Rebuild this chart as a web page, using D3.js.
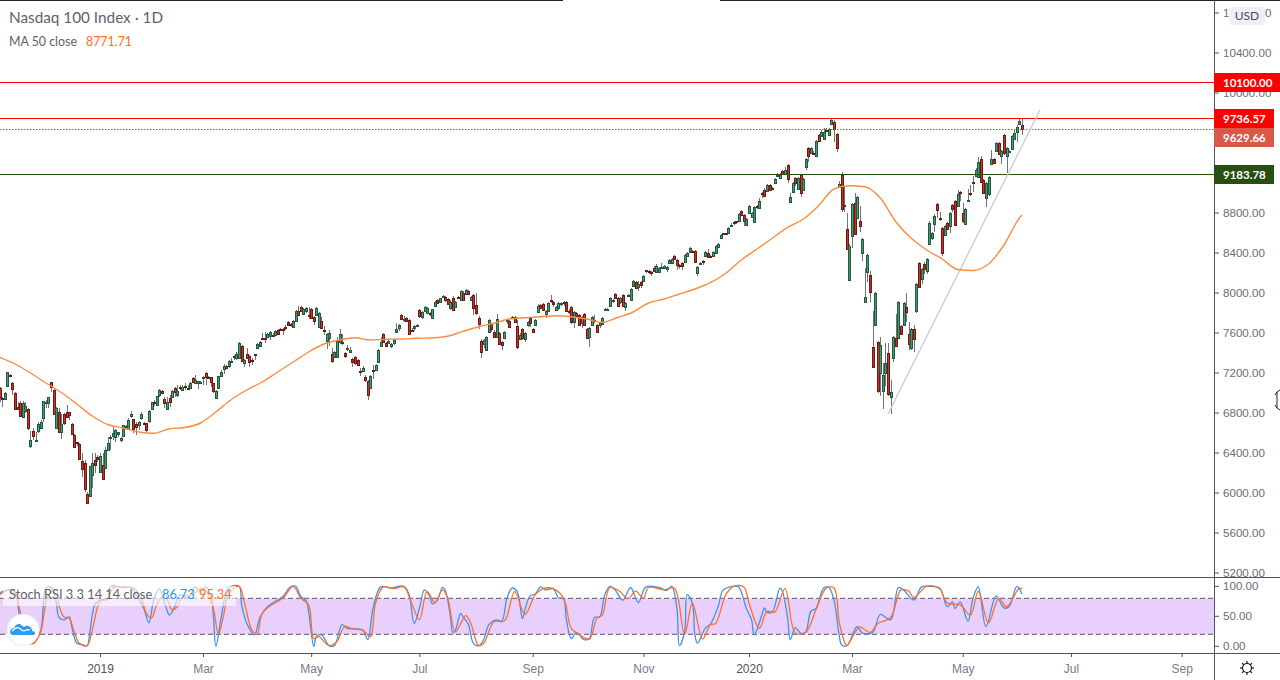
<!DOCTYPE html>
<html>
<head>
<meta charset="utf-8">
<script src="https://cdnjs.cloudflare.com/ajax/libs/d3/7.8.5/d3.min.js"></script>
<style>
  html, body { margin: 0; padding: 0; background: #fff; }
  svg { display: block; font-family: "Lato", "Open Sans", sans-serif; }
  .axis text { fill: #6a6d78; font-size: 11.6px; }
  .axis line { stroke: #50535e; }
  .axis path { display: none; }
  .time-axis text { font-size: 12px; }
</style>
</head>
<body>
<svg id="main-svg" width="1280" height="680"></svg>
<script>
// bar numbers count trading days from 2 Jan 2019 (bar 0), first visible bar is -39
const firstBar = -39;

const opens = [
  7040,6940,6930,7060,7170,7090,6990,6850,6890,6750,
  6810,6830,6460,6610,6510,6610,6640,6740,6890,6890,
  7100,7020,6640,6800,6600,6780,6800,6800,6680,6570,
  6500,6480,6310,6290,5980,5960,6170,6320,6350,6200,
  6270,6240,6420,6540,6560,6550,6580,6520,6560,6660,
  6630,6760,6730,6680,6670,6740,6690,6690,6710,6830,
  6900,6870,6970,7010,6930,6830,6940,6950,7040,6970,
  7050,7020,7060,7040,7040,7140,7090,7090,7090,7150,
  7190,7150,7150,7090,6940,7040,7160,7230,7260,7260,
  7310,7360,7340,7340,7460,7290,7380,7360,7320,7380,
  7440,7460,7540,7540,7550,7560,7570,7570,7620,7630,
  7630,7650,7700,7680,7650,7710,7810,7850,7780,7810,
  7770,7830,7750,7770,7650,7710,7620,7510,7540,7380,
  7350,7350,7500,7505,7390,7440,7400,7330,7350,7320,
  7215,7220,7150,7110,7040,7220,7220,7300,7460,7580,
  7490,7490,7460,7490,7600,7640,7770,7720,7740,7720,
  7625,7640,7665,7820,7750,7810,7790,7790,7740,7860,
  7920,7900,7960,7950,7930,7840,7940,7850,7950,7920,
  7990,7980,8010,7920,7970,7870,7740,7510,7480,7420,
  7600,7680,7600,7550,7590,7500,7540,7710,7710,7745,
  7750,7660,7530,7630,7530,7670,7740,7630,7670,7800,
  7870,7880,7780,7810,7925,7900,7820,7840,7885,7900,
  7900,7810,7850,7700,7790,7770,7690,7780,7630,7550,
  7670,7715,7670,7670,7680,7830,7830,7860,7910,7980,
  7940,7900,7970,7850,7965,7920,8060,8100,8050,8100,
  8110,8215,8210,8200,8240,8200,8200,8250,8240,8235,
  8290,8290,8360,8320,8270,8290,8300,8360,8400,8410,
  8410,8190,8290,8315,8360,8390,8360,8360,8390,8450,
  8540,8585,8585,8590,8670,8700,8705,8710,8810,8770,
  8670,8790,8750,8700,8860,8840,8990,9020,9010,9070,
  9040,9090,9165,9140,9210,9180,9270,8900,9000,9140,
  9030,9170,9020,9250,9440,9390,9395,9360,9570,9560,
  9530,9620,9570,9680,9700,9580,9050,9170,8870,8630,
  8120,8560,8890,8740,8710,8390,7900,8200,8170,7450,
  7670,7500,7190,7010,7190,7390,6950,7340,7540,7540,
  7660,7670,7850,7580,7440,7630,7810,8290,8130,8280,
  8210,8480,8540,8680,8880,8735,8640,8570,8690,8660,
  8870,8910,8860,9005,8790,8680,8920,8990,9105,9160,
  9150,9330,9120,8940,8980,9280,9330,9410,9490,9360,
  9570,9360,9410,9430,9530,9600,9680,9670
];

const closes = [
  6950,6930,6990,7200,7160,7030,6830,6830,6760,6890,
  6860,6640,6520,6560,6520,6680,6700,6910,6900,6950,
  7050,6780,6840,6600,6680,6690,6750,6770,6580,6450,
  6490,6330,6230,6030,5890,6260,6290,6270,6330,6360,
  6130,6420,6490,6550,6590,6620,6600,6540,6670,6665,
  6720,6780,6630,6650,6700,6780,6685,6620,6810,6900,
  6895,6960,7020,6990,6890,6900,6900,7010,7000,7010,
  7040,7050,7050,7030,7090,7100,7120,7110,7100,7155,
  7150,7145,7100,7010,7010,7160,7200,7260,7240,7310,
  7315,7355,7380,7490,7310,7320,7340,7300,7315,7375,
  7480,7500,7535,7535,7580,7600,7565,7610,7580,7625,
  7625,7645,7670,7675,7710,7810,7770,7810,7830,7840,
  7765,7740,7710,7840,7790,7640,7615,7580,7590,7310,
  7400,7510,7580,7500,7360,7445,7420,7300,7290,7270,
  7210,7245,7120,6970,7160,7215,7270,7420,7500,7500,
  7460,7510,7480,7520,7630,7670,7730,7725,7710,7580,
  7620,7660,7670,7760,7800,7850,7840,7780,7830,7900,
  7890,7940,7965,7920,7880,7900,7820,7900,7945,8010,
  7920,8020,7980,7950,7840,7790,7680,7400,7520,7550,
  7720,7630,7550,7730,7480,7470,7600,7715,7650,7740,
  7700,7450,7570,7540,7590,7700,7690,7600,7720,7860,
  7840,7820,7810,7890,7920,7880,7850,7890,7890,7895,
  7810,7805,7700,7800,7760,7670,7750,7670,7540,7640,
  7750,7710,7600,7690,7740,7835,7835,7940,7915,7940,
  7860,7940,7860,7890,7970,8030,8110,8040,8080,8070,
  8160,8210,8205,8195,8210,8260,8240,8255,8260,8250,
  8320,8330,8330,8270,8265,8260,8370,8390,8440,8405,
  8300,8250,8295,8310,8400,8350,8350,8400,8460,8480,
  8570,8580,8580,8640,8675,8695,8700,8780,8770,8710,
  8730,8860,8790,8850,8855,8910,8985,8960,9070,9020,
  9035,9130,9170,9170,9180,9220,9130,8950,9090,9090,
  9140,8990,9130,9330,9360,9440,9390,9510,9510,9600,
  9600,9615,9630,9720,9630,9440,9080,8830,8865,8430,
  8460,8880,8580,8950,8660,8530,7950,8370,8000,7250,
  7990,7010,7470,7170,7290,6980,7000,7550,7460,7900,
  7580,7890,7800,7480,7630,7530,8080,8050,8230,8230,
  8330,8690,8590,8760,8820,8730,8390,8660,8630,8790,
  8830,8670,8980,9000,8710,8830,8925,8985,9100,9220,
  9300,9100,8990,9090,9150,9330,9290,9490,9380,9410,
  9390,9440,9415,9560,9590,9650,9710,9629.66
];

const highs = [
  7050,6950,7000,7200,7180,7100,7000,6900,6910,6910,
  6900,6840,6610,6640,6600,6700,6720,6910,6920,6950,
  7100,7040,6850,6840,6780,6790,6870,6800,6690,6580,
  6500,6490,6390,6320,6000,6260,6390,6390,6370,6390,
  6390,6450,6550,6570,6650,6630,6600,6550,6670,6670,
  6740,6810,6730,6700,6710,6800,6700,6690,6820,6900,
  6920,6960,7030,7020,6950,6950,6970,7020,7050,7070,
  7070,7070,7090,7070,7100,7150,7170,7110,7110,7160,
  7200,7160,7150,7090,7020,7160,7220,7280,7270,7320,
  7340,7370,7400,7500,7470,7330,7440,7370,7340,7380,
  7490,7510,7590,7600,7590,7610,7590,7620,7630,7640,
  7640,7670,7710,7690,7720,7820,7860,7860,7840,7850,
  7850,7840,7760,7850,7800,7750,7660,7590,7620,7440,
  7410,7550,7630,7580,7400,7470,7450,7340,7360,7330,
  7240,7260,7170,7120,7170,7270,7280,7430,7550,7590,
  7500,7530,7490,7530,7690,7680,7780,7760,7750,7730,
  7640,7670,7680,7830,7810,7860,7850,7800,7830,7910,
  7930,7940,7970,7960,7940,7920,7960,7910,7960,8020,
  8010,8030,8020,7960,7980,7990,7760,7530,7530,7560,
  7730,7690,7620,7780,7600,7510,7610,7730,7720,7760,
  7760,7720,7590,7640,7600,7710,7750,7640,7730,7880,
  7880,7890,7820,7900,7970,7910,7860,7900,7900,7910,
  7910,7830,7860,7810,7800,7780,7760,7790,7640,7650,
  7760,7770,7680,7700,7750,7840,7840,7950,7930,7990,
  7950,7950,7980,7900,7980,8040,8120,8110,8110,8110,
  8170,8220,8220,8210,8260,8280,8250,8290,8270,8260,
  8330,8340,8370,8330,8280,8300,8380,8400,8450,8420,
  8420,8260,8300,8320,8410,8430,8370,8410,8470,8490,
  8580,8590,8590,8650,8690,8710,8710,8790,8820,8780,
  8740,8870,8800,8860,8870,8940,9000,9040,9080,9080,
  9050,9140,9190,9190,9220,9250,9280,8990,9100,9150,
  9150,9180,9140,9340,9450,9450,9410,9520,9580,9620,
  9640,9640,9640,9740,9720,9590,9110,9200,9060,8790,
  8480,8890,8990,8960,8860,8540,8240,8380,8210,7810,
  8000,7510,7550,7290,7490,7490,7120,7560,7780,7910,
  7670,7900,7990,7700,7640,7670,8090,8300,8240,8300,
  8340,8710,8600,8780,8890,8800,8650,8670,8700,8800,
  8880,8920,9020,9010,8890,8840,9030,9070,9160,9240,
  9350,9360,9130,9100,9160,9420,9340,9500,9500,9420,
  9580,9450,9420,9570,9620,9670,9730,9730
];

const lows = [
  6900,6850,6920,7050,7150,6970,6820,6820,6750,6740,
  6790,6620,6440,6520,6510,6590,6630,6700,6840,6840,
  7000,6780,6640,6590,6530,6670,6740,6720,6570,6440,
  6460,6330,6150,6000,5880,5950,6040,6190,6300,6190,
  6130,6240,6410,6420,6520,6500,6550,6500,6550,6650,
  6620,6740,6590,6570,6620,6720,6680,6600,6690,6830,
  6860,6860,6950,6990,6840,6820,6850,6940,6950,6950,
  7020,7020,7020,7020,7030,7100,7090,7030,7080,7070,
  7070,7130,7050,6990,6930,7040,7150,7180,7230,7240,
  7290,7320,7320,7330,7300,7250,7330,7250,7270,7320,
  7430,7450,7530,7490,7540,7520,7550,7560,7570,7610,
  7570,7620,7660,7650,7640,7710,7760,7800,7770,7790,
  7730,7730,7670,7760,7640,7630,7570,7430,7460,7290,
  7340,7340,7480,7470,7340,7410,7400,7250,7270,7260,
  7160,7210,7100,6920,7030,7130,7210,7300,7450,7490,
  7450,7480,7440,7470,7590,7610,7720,7700,7700,7570,
  7610,7610,7650,7740,7730,7800,7780,7760,7730,7850,
  7880,7890,7950,7900,7870,7820,7810,7840,7930,7910,
  7910,7970,7970,7910,7770,7770,7630,7340,7440,7410,
  7590,7600,7540,7540,7470,7420,7530,7680,7640,7730,
  7690,7430,7520,7520,7500,7650,7650,7590,7660,7790,
  7830,7810,7740,7800,7890,7850,7810,7820,7860,7860,
  7800,7780,7680,7640,7750,7660,7640,7660,7530,7450,
  7660,7690,7590,7640,7670,7830,7820,7860,7890,7930,
  7850,7880,7850,7810,7955,7910,8050,8030,8010,8040,
  8100,8190,8180,8160,8200,8190,8190,8240,8230,8200,
  8280,8280,8320,8220,8230,8220,8290,8350,8390,8400,
  8290,8160,8280,8270,8350,8340,8340,8350,8380,8440,
  8530,8570,8570,8580,8660,8670,8680,8700,8760,8660,
  8660,8780,8740,8690,8830,8830,8940,8950,9000,9010,
  9020,9080,9155,9130,9170,9170,9090,8890,8990,9060,
  9020,8950,9010,9220,9300,9380,9380,9350,9500,9550,
  9520,9600,9560,9670,9500,9400,9040,8800,8800,8420,
  8110,8440,8570,8730,8600,8310,7890,8100,7900,7240,
  7660,6990,6960,6830,7060,6960,6780,7300,7450,7530,
  7570,7660,7700,7420,7420,7400,7790,8040,8080,8180,
  8180,8470,8520,8600,8740,8710,8360,8560,8620,8590,
  8800,8660,8850,8910,8690,8670,8910,8960,9000,9150,
  9140,9090,8980,8850,8960,9270,9280,9400,9370,9280,
  9370,9190,9400,9420,9520,9500,9670,9570
];

// MA 50, read every 6th bar, last one from the legend
const maBars = [-39,-33,-27,-21,-15,-9,-3,3,9,15,21,27,33,39,45,51,57,63,69,75,81,87,93,99,105,111,117,123,129,135,141,147,153,159,165,171,177,183,189,195,201,207,213,219,225,231,237,243,249,255,261,267,273,279,285,291,297,303,309,315,321,327,333,339,345,351,357,358];
const maValues = [
  7347,7280,7190,7090,6995,6880,6760,6675,6640,6600,
  6587,6632,6645,6690,6800,6925,7020,7100,7200,7300,
  7400,7480,7520,7543,7520,7527,7530,7537,7540,7557,
  7607,7653,7687,7730,7743,7753,7763,7753,7730,7695,
  7745,7800,7890,7930,7980,8030,8093,8187,8320,8427,
  8537,8647,8727,8863,9030,9063,9053,8940,8703,8537,
  8420,8330,8225,8215,8280,8470,8740,8771.71
];

// Stoch RSI turning points, %K and %D have their own bars
const kBars = [-39,-38,-35,-33,-31,-29,-26,-23,-21,-19,-17,-16,-14,-12,-11,-9,-7,-5,-4,-2,0,3,4,6,9,12,14,17,19,21,23,25,27,29,31,34,37,39,41,43,44,45,47,49,50,54,55,57,60,62,65,67,71,74,76,78,80,81,83,84,86,89,91,94,96,102,104,106,109,113,118,120,122,124,126,128,129,131,133,134,136,137,138,140,141,143,145,147,149,151,154,156,158,160,162,164,165,167,169,171,173,176,178,180,181,183,185,188,190,192,194,196,198,200,203,206,209,212,217,220,222,224,225,227,228,230,231,232,235,237,240,242,246,248,251,253,254,257,258,259,261,264,265,267,268,270,272,274,276,278,281,283,285,287,288,290,294,296,300,303,307,310,312,316,319,322,326,329,331,332,334,337,339,341,344,348,351,353,356,358];
const kValues = [88,91,94,91,41,8,5,27,97,98,74,49,44,49,33,5,3,1,22,69,77,80,99,100,98,98,86,63,39,80,96,74,52,66,86,80,99,91,99,86,52,0,47,91,98,100,69,38,19,47,66,72,83,99,100,83,76,58,0,16,19,1,1,36,30,27,11,63,99,97,100,86,38,63,94,83,71,77,98,94,52,23,27,55,49,37,5,1,11,36,44,42,80,97,91,46,61,84,87,99,94,96,81,79,47,13,23,11,13,48,49,86,100,94,77,98,73,99,98,93,100,63,1,24,86,72,19,5,30,37,66,94,100,99,63,44,19,52,64,57,57,97,91,47,11,31,22,24,58,63,97,98,77,19,2,1,33,22,23,53,44,98,94,77,99,100,97,66,74,63,74,42,80,99,33,84,64,66,100,86.73];
const dBars = [-39,-35,-33,-31,-28,-26,-25,-23,-20,-17,-16,-14,-12,-10,-8,-5,-3,0,3,5,9,13,16,18,20,22,25,28,30,32,36,39,41,44,46,48,50,54,56,59,61,63,67,71,75,78,81,83,85,89,92,95,98,102,105,107,110,114,118,121,124,127,130,133,135,138,142,144,147,149,153,157,161,165,169,172,176,180,183,186,190,193,195,198,202,205,208,211,213,219,223,227,230,234,237,239,243,246,250,252,256,259,262,266,270,274,278,282,285,287,289,290,295,299,302,307,311,314,316,321,326,329,334,338,341,345,349,352,357,358];
const dValues = [86,94,88,58,13,4,8,24,86,94,69,49,47,24,5,1,27,74,79,97,99,97,80,55,47,69,86,61,66,83,86,96,94,63,20,52,88,100,74,27,20,55,70,80,100,80,69,13,16,1,8,33,29,27,16,72,99,96,99,72,44,91,73,94,80,24,51,38,1,5,41,42,91,53,86,96,96,80,30,20,12,47,52,98,91,79,92,80,98,94,97,20,72,12,36,38,86,100,99,72,30,58,57,96,22,23,61,97,97,41,8,1,32,23,38,48,94,92,81,100,96,72,69,52,92,39,80,66,97,95.34];

// axis ticks and drawn levels
const priceTicks = [5200,5600,6000,6400,6800,7200,7600,8000,8400,8800,9200,9600,10000,10400,10800];
const stochTicks = [0,50,100];
const tickBars = [0,40,82,124,168,211,252,292,335,377,420];
const tickLabels = ['2019','Mar','May','Jul','Sep','Nov','2020','Mar','May','Jul','Sep'];
const levelPrices = [10100,9736.57,9183.78];
const levelColors = ['#ff0000','#ff0000','#274e13'];
const trendBars = [306,365];
const trendPrices = [6780,9820];

let width = 1280;
let height = 680;
let axisX = 1214;

let x = d3.scaleLinear().domain([0,252]).range([100,749]);
let y = d3.scaleLinear().domain([5200,10400]).range([572,52]);
let yStoch = d3.scaleLinear().domain([0,100]).range([646.3,586.3]);

let svg = d3.select('#main-svg');
let bars = d3.range(opens.length);
let barX = i => Math.round(x(i + firstBar));
let snap = v => Math.round(v) + 0.5;

// candles
let candles = svg.append('g').attr('shape-rendering','crispEdges');
candles.selectAll('line').data(bars).join('line')
  .attr('x1', i => barX(i) + 0.5).attr('x2', i => barX(i) + 0.5)
  .attr('y1', i => y(highs[i])).attr('y2', i => y(lows[i]))
  .attr('stroke','#737373');
candles.selectAll('rect').data(bars).join('rect')
  .attr('x', i => barX(i) - 0.5)
  .attr('width', 2)
  .attr('y', i => Math.round(y(Math.max(opens[i],closes[i]))) + 0.5)
  .attr('height', i => Math.max(1, Math.round(Math.abs(opens[i]-closes[i]) * 0.1)))
  .attr('fill', i => closes[i] >= opens[i] ? '#4a9a72' : '#c8322a')
  .attr('stroke', i => closes[i] >= opens[i] ? '#1f5a3e' : '#6b1a14');

// horizontal levels and trend line over the candles
svg.selectAll('.level').data(levelPrices).join('line')
  .attr('class','level')
  .attr('x1',0).attr('x2',axisX)
  .attr('y1',d => snap(y(d))).attr('y2',d => snap(y(d)))
  .attr('stroke',(d,i) => levelColors[i]);
svg.append('line')
  .attr('x1',0).attr('x2',axisX)
  .attr('y1',snap(y(closes[closes.length-1]))).attr('y2',snap(y(closes[closes.length-1])))
  .attr('stroke','#c9483e').attr('stroke-dasharray','1.5 1.5');
svg.append('line')
  .attr('x1',x(trendBars[0])).attr('y1',y(trendPrices[0]))
  .attr('x2',x(trendBars[1])).attr('y2',y(trendPrices[1]))
  .attr('stroke','#cccccc').attr('stroke-width',1.4);

// moving average
svg.append('path')
  .datum(maBars)
  .attr('d', d3.line().x(d => x(d)).y((d,i) => y(maValues[i])).curve(d3.curveMonotoneX))
  .attr('fill','none').attr('stroke','#ff8c3f').attr('stroke-width',1.4);

// stoch panel
svg.append('rect')
  .attr('x',0).attr('width',axisX)
  .attr('y',yStoch(80)).attr('height',yStoch(20)-yStoch(80))
  .attr('fill','#e9cffc');
svg.selectAll('.band').data([80,20]).join('line')
  .attr('class','band')
  .attr('x1',0).attr('x2',axisX)
  .attr('y1',d => yStoch(d)).attr('y2',d => yStoch(d))
  .attr('stroke','#5d5668').attr('stroke-dasharray','5 3');
svg.append('path').datum(kBars)
  .attr('d', d3.line().x(d => x(d)).y((d,i) => yStoch(kValues[i])).curve(d3.curveCatmullRom.alpha(0.5)))
  .attr('fill','none').attr('stroke','#3d93ee').attr('stroke-width',1.3);
svg.append('path').datum(dBars)
  .attr('d', d3.line().x(d => x(d)).y((d,i) => yStoch(dValues[i])).curve(d3.curveCatmullRom.alpha(0.5)))
  .attr('fill','none').attr('stroke','#ff6f2a').attr('stroke-width',1.3);

// panel borders and axes
svg.append('line').attr('x1',0).attr('x2',563).attr('y1',0.5).attr('y2',0.5).attr('stroke','#1e222d');
svg.append('line').attr('x1',720).attr('x2',width).attr('y1',0.5).attr('y2',0.5).attr('stroke','#1e222d');
svg.append('line').attr('x1',0).attr('x2',width).attr('y1',577.5).attr('y2',577.5).attr('stroke','#50535e');
svg.append('line').attr('x1',0).attr('x2',width).attr('y1',653.5).attr('y2',653.5).attr('stroke','#50535e');
svg.append('line').attr('x1',axisX+0.5).attr('x2',axisX+0.5).attr('y1',0).attr('y2',height).attr('stroke','#50535e');

svg.append('g').attr('class','axis')
  .attr('transform',`translate(${axisX+1} 0.5)`)
  .call(d3.axisRight(y).tickValues(priceTicks).tickSize(4).tickPadding(4).tickFormat(d3.format('.2f')));
svg.append('g').attr('class','axis')
  .attr('transform',`translate(${axisX+1} -0.5)`)
  .call(d3.axisRight(yStoch).tickValues(stochTicks).tickSize(4).tickPadding(4).tickFormat(d3.format('.2f')));
svg.append('g').attr('class','axis time-axis')
  .attr('transform','translate(0 654)')
  .call(d3.axisBottom(x).tickValues(tickBars).tickSize(3).tickPadding(7).tickFormat((d,i) => tickLabels[i]))
  .selectAll('text')
    .style('fill',(d,i) => tickLabels[i].length === 4 ? '#50535e' : '#787b86');

// price tags on the axis
let tagTexts = [10100,9736.57,closes[closes.length-1],9183.78];
let tagFills = ['#ff0000','#ff0000','#d9584a','#274e13'];
let tagWidths = [66,60,60,60];
let tags = svg.selectAll('.tag').data(tagTexts).join('g').attr('class','tag');
tags.append('rect')
  .attr('x',axisX)
  .attr('width',(d,i) => tagWidths[i])
  .attr('y',(d,i) => i === 2 ? 128 : Math.round(y(d)) - 9)
  .attr('height',19)
  .attr('fill',(d,i) => tagFills[i]);
tags.append('text')
  .attr('x',axisX+9)
  .attr('y',(d,i) => (i === 2 ? 128 : Math.round(y(d)) - 9) + 14)
  .attr('fill','#fff').attr('font-size',11.5).attr('font-weight',700)
  .text(d => d3.format('.2f')(d));

// USD badge
svg.append('rect').attr('x',1229).attr('y',7).attr('width',36).attr('height',18).attr('rx',3).attr('fill','#f1eefa');
svg.append('text').attr('x',1247).attr('y',20).attr('text-anchor','middle')
  .attr('font-size',12).attr('fill','#4a4d57').text('USD');

// legends
svg.append('text').attr('x',9).attr('y',23).attr('font-size',15.3).attr('fill','#5f6169').text('Nasdaq 100 Index · 1D');
svg.append('text').attr('x',9).attr('y',46).attr('font-size',12.4).attr('fill','#5f6169').text('MA 50 close');
svg.append('text').attr('x',86).attr('y',46).attr('font-size',12.4).attr('fill','#ff6d1f').text('8771.71');

svg.append('rect').attr('x',3).attr('y',586).attr('width',233).attr('height',20).attr('fill','#fff').attr('fill-opacity',0.6);
svg.append('text').attr('x',9).attr('y',599).attr('font-size',12.8).attr('fill','#5f6169').text('Stoch RSI 3 3 14 14 close');
svg.append('text').attr('x',162).attr('y',599).attr('font-size',12.8).attr('fill','#2196f3').text('86.73');
svg.append('text').attr('x',199).attr('y',599).attr('font-size',12.8).attr('fill','#ff6d1f').text('95.34');

// logo
svg.append('circle').attr('cx',23).attr('cy',630).attr('r',16).attr('fill','#fff').attr('stroke','#ececec');
svg.append('path')
  .attr('d','M13 635c-2 0-3-2-3-3 0-3 2-4 4-4 1-3 3-4 5-4 2 0 3 2 5 3 2-2 4-2 6 0 2 1 2 3 2 4 2 0 3 1 3 2 0 2-1 2-3 2z')
  .attr('fill','#2c9cf2');
svg.append('path')
  .attr('d','M12 631c3-3 5-4 7-3 2 1 3 3 5 3 2-1 4-2 6-1')
  .attr('fill','none').attr('stroke','#fff').attr('stroke-width',1.2);

// settings gear and the stray cursor at the right edge
svg.append('circle').attr('cx',1247).attr('cy',668).attr('r',4.5).attr('fill','none').attr('stroke','#131722').attr('stroke-width',1.2);
svg.selectAll('.ray').data(d3.range(8)).join('line')
  .attr('class','ray')
  .attr('x1',d => 1247 + 4.5*Math.cos(d*Math.PI/4)).attr('y1',d => 668 + 4.5*Math.sin(d*Math.PI/4))
  .attr('x2',d => 1247 + 7*Math.cos(d*Math.PI/4)).attr('y2',d => 668 + 7*Math.sin(d*Math.PI/4))
  .attr('stroke','#131722').attr('stroke-width',1.2);
svg.append('path')
  .attr('d','M1280 390l-3 2 0 16 3 2M1277 392l-2 3M1277 408l-2-3')
  .attr('fill','none').attr('stroke','#222');
</script>
</body>
</html>
